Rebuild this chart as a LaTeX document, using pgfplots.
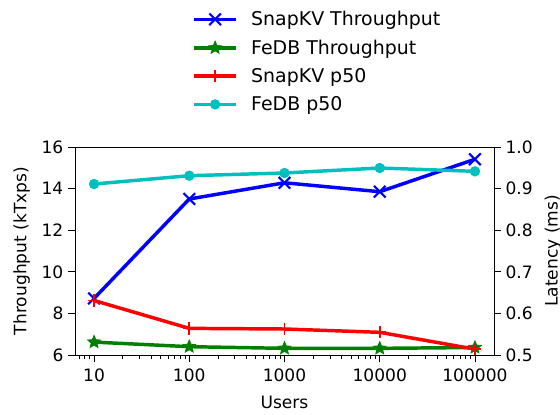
\documentclass[border=0pt]{standalone}
\usepackage{fontspec}
\setmainfont{DejaVu Sans}
\usepackage{pgfplots}
\pgfplotsset{compat=1.18}

\definecolor{mplblue}{RGB}{0,0,255}
\definecolor{mplgreen}{RGB}{0,128,0}
\definecolor{mplred}{RGB}{255,0,0}
\definecolor{mplcyan}{RGB}{0,191,191}

\newcommand\fs{\fontsize{12.8}{15}\selectfont}
\newcommand\lfs{\fontsize{14.2}{17}\selectfont}

% filled five-pointed star (matplotlib '*')
\pgfdeclareplotmark{fstar}{%
  \pgfpathmoveto{\pgfpointpolar{90}{\pgfplotmarksize}}%
  \pgfpathlineto{\pgfpointpolar{126}{0.45\pgfplotmarksize}}%
  \pgfpathlineto{\pgfpointpolar{162}{\pgfplotmarksize}}%
  \pgfpathlineto{\pgfpointpolar{198}{0.45\pgfplotmarksize}}%
  \pgfpathlineto{\pgfpointpolar{234}{\pgfplotmarksize}}%
  \pgfpathlineto{\pgfpointpolar{270}{0.45\pgfplotmarksize}}%
  \pgfpathlineto{\pgfpointpolar{306}{\pgfplotmarksize}}%
  \pgfpathlineto{\pgfpointpolar{342}{0.45\pgfplotmarksize}}%
  \pgfpathlineto{\pgfpointpolar{18}{\pgfplotmarksize}}%
  \pgfpathlineto{\pgfpointpolar{54}{0.45\pgfplotmarksize}}%
  \pgfpathclose
  \pgfusepathqfillstroke}

\pgfplotsset{
  every axis/.append style={
    scale only axis, width=314.25pt, height=156pt,
    xmode=log, log basis x=10,
    xmin=6.31, xmax=158489,
    tick align=outside,
    major tick length=5.2pt, minor tick length=3pt,
    tick style={black, line width=0.6pt},
    axis line style={line width=0.6pt},
    tick label style={font=\fs},
    label style={font=\fs},
    /pgf/number format/assume math mode=true,
  },
  snapT/.style={mplblue, line width=2.6pt, mark=x, mark size=6.2pt, mark options={line width=1.6pt}},
  fedbT/.style={mplgreen, line width=2.6pt, mark=fstar, mark size=5pt, mark options={line width=0.6pt}},
  snapL/.style={mplred, line width=2.6pt, mark=+, mark size=4.6pt, mark options={line width=1.4pt}},
  fedbL/.style={mplcyan, line width=2.6pt, mark=*, mark size=2.5pt},
}

\begin{document}
\begin{tikzpicture}
\path[use as bounding box] (-56.25pt,-44.25pt) rectangle (363.75pt,266.25pt);
\begin{axis}[
    ymin=6, ymax=16,
    ytick={6,8,10,12,14,16},
    xtick={10,100,1000,10000,100000},
    xticklabels={10,100,1000,10000,100000},
    minor xtick={7,8,9,20,30,40,50,60,70,80,90,200,300,400,500,600,700,800,900,
      2000,3000,4000,5000,6000,7000,8000,9000,20000,30000,40000,50000,60000,70000,80000,90000},
    ytick pos=left, xtick pos=bottom,
    xticklabel style={yshift=-1.5pt},
    xlabel={Users},
    xlabel style={yshift=-4pt},
    ylabel={Throughput (kTxps)},
    ylabel style={yshift=2pt},
    clip=false,
]
\addplot[snapT] coordinates {
  (10,8.72) (100,13.5) (1000,14.28) (10000,13.85) (100000,15.41)};
\addplot[fedbT] coordinates {
  (10,6.62) (100,6.4) (1000,6.32) (10000,6.32) (100000,6.36)};
\end{axis}
\begin{axis}[
    ymin=0.5, ymax=1.0,
    ytick={0.5,0.6,0.7,0.8,0.9,1.0},
    yticklabel style={/pgf/number format/.cd, fixed, fixed zerofill, precision=1},
    axis y line*=right, axis x line=none,
    ylabel={Latency (ms)},
    ylabel style={yshift=-2pt},
    clip=false,
    legend style={at={(0.27,1.68)}, anchor=north west, draw=none, fill=none,
      font=\lfs, row sep=5.1pt, column sep=8pt},
    legend cell align=left,
    legend image code/.code={\draw[mark repeat=2, mark phase=2]
      plot coordinates {(0pt,0pt) (15.75pt,0pt) (31.5pt,0pt)};},
]
\addlegendimage{snapT}
\addlegendentry{SnapKV Throughput}
\addlegendimage{fedbT}
\addlegendentry{FeDB Throughput}
\addplot[snapL] coordinates {
  (10,0.631) (100,0.564) (1000,0.5625) (10000,0.5545) (100000,0.514)};
\addlegendentry{SnapKV p50}
\addplot[fedbL] coordinates {
  (10,0.911) (100,0.931) (1000,0.9375) (10000,0.9495) (100000,0.9415)};
\addlegendentry{FeDB p50}
\end{axis}
\end{tikzpicture}
\end{document}
